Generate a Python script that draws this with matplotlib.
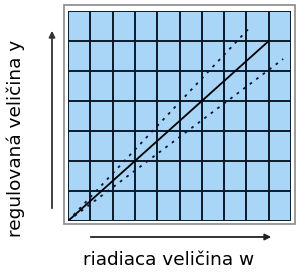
import matplotlib.pyplot as plt
from matplotlib.patches import Rectangle

# data in grid units (10 columns x 7 rows)
n_cols = 10
n_rows = 7
ideal_w = [0, 9]
ideal_y = [0, 6]
upper_w = [0, 8.15]
upper_y = [0, 6.45]
lower_w = [0, 9.65]
lower_y = [0, 5.4]

W, H = 296, 280
fig = plt.figure(figsize=(W / 100, H / 100), dpi=100)

# outer light frame
fig.patches.append(Rectangle((64 / W, (H - 224) / H), 231 / W, 219 / H,
                             transform=fig.transFigure, facecolor='white',
                             edgecolor='#8a8a8a', linewidth=1.2, zorder=-1))

ax = fig.add_axes([68 / W, (H - 221) / H, 223 / W, 210 / H])
ax.set_facecolor('#a9d5f7')
ax.set_xlim(0, n_cols)
ax.set_ylim(0, n_rows)
for i in range(n_cols + 1):
    ax.axvline(i, color='#0a1a2a', lw=1.4)
for j in range(n_rows + 1):
    ax.axhline(j, color='#0a1a2a', lw=1.4)

ax.plot(ideal_w, ideal_y, color='black', lw=1.3)
ax.plot(upper_w, upper_y, color='#111133', lw=1.3, linestyle=(0, (1.5, 3)))
ax.plot(lower_w, lower_y, color='#111133', lw=1.3, linestyle=(0, (1.5, 3)))
ax.set_xticks([])
ax.set_yticks([])
for s in ax.spines.values():
    s.set_visible(False)

# arrows
fig.add_artist(plt.Annotation('', xy=(52 / W, (H - 28) / H), xytext=(52 / W, (H - 211) / H),
                              xycoords='figure fraction',
                              arrowprops=dict(arrowstyle='-|>', color='#333333', lw=1.3,
                                              mutation_scale=9)))
fig.add_artist(plt.Annotation('', xy=(274 / W, (H - 237) / H), xytext=(88 / W, (H - 237) / H),
                              xycoords='figure fraction',
                              arrowprops=dict(arrowstyle='-|>', color='#222222', lw=1.3,
                                              mutation_scale=9)))

fig.text(169 / W, (H - 260) / H, 'riadiaca veličina w', ha='center', va='center',
         fontsize=13.3, family='DejaVu Sans')
fig.text(16 / W, (H - 138) / H, 'regulovaná veličina y', ha='center', va='center',
         rotation=90, fontsize=13.3, family='DejaVu Sans')

fig.savefig('out.png', dpi=100)
